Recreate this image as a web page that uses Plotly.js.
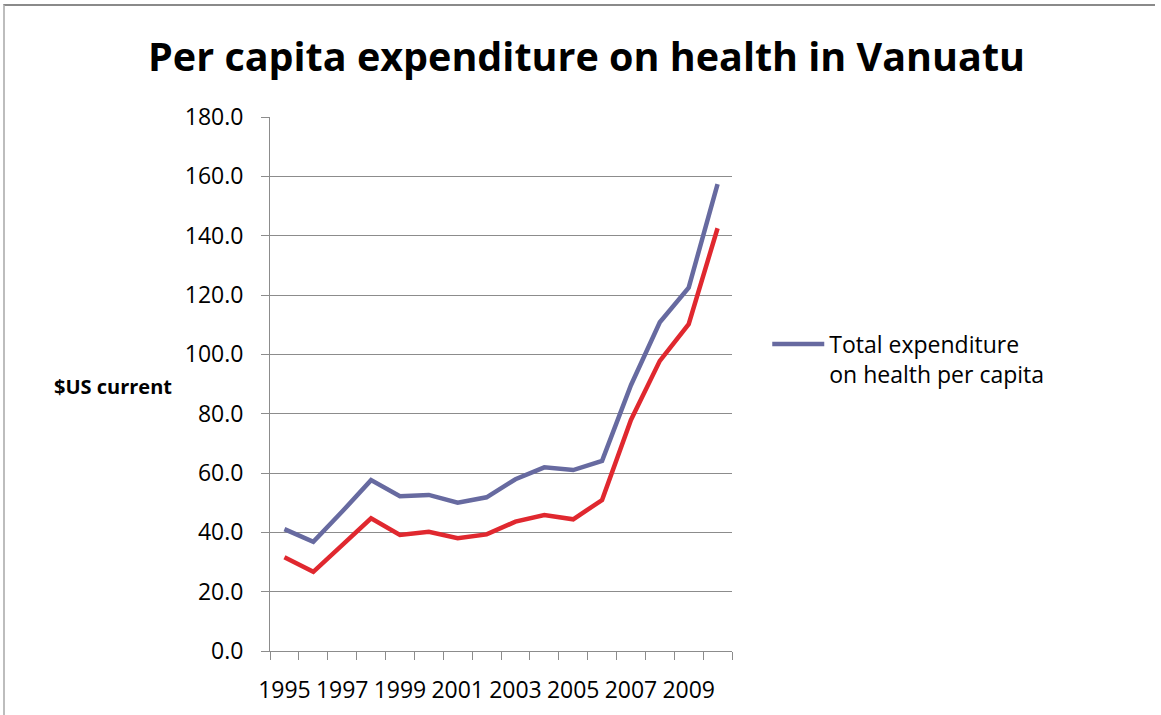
<!DOCTYPE html>
<html>
<head>
<meta charset="utf-8">
<script src="https://cdn.plot.ly/plotly-3.0.1.min.js"></script>
<style>
  html, body { margin: 0; padding: 0; background: #fff; }
  #chart { width: 1161px; height: 715px; }
  #frame { position: absolute; left: 3px; top: 4px; width: 1150px; height: 720px;
           border-top: 2px solid #8a8a8a; border-left: 2px solid #bdbdbd; pointer-events: none; }
</style>
</head>
<body>
<div id="chart"></div>
<div id="frame"></div>
<script>
const years = [1995, 1996, 1997, 1998, 1999, 2000, 2001, 2002, 2003, 2004, 2005, 2006, 2007, 2008, 2009, 2010];
const totalPerCapita = [41.1, 36.8, 47.0, 57.6, 52.2, 52.6, 50.0, 51.8, 57.9, 61.9, 61.0, 64.1, 89.6, 110.8, 122.5, 157.4];
const secondSeries = [31.6, 26.7, 35.7, 44.7, 39.1, 40.2, 38.0, 39.3, 43.6, 45.8, 44.4, 50.9, 77.9, 97.8, 110.2, 142.5];
const xTickLabels = ['1995', '1997', '1999', '2001', '2003', '2005', '2007', '2009'];
const xTickVals = [1995, 1997, 1999, 2001, 2003, 2005, 2007, 2009];
const seriesName = 'Total expenditure<br>on health per capita';

const font = "'Open Sans', 'Liberation Sans', sans-serif";

const traces = [
  { x: years, y: totalPerCapita, type: 'scatter', mode: 'lines', name: seriesName,
    line: { color: '#676AA0', width: 4.5 }, showlegend: true },
  { x: years, y: secondSeries, type: 'scatter', mode: 'lines', name: 'Series 2',
    line: { color: '#E0282F', width: 4.5 }, showlegend: false }
];

const layout = {
  width: 1161, height: 715,
  margin: { l: 270, r: 429, t: 117, b: 64 },
  paper_bgcolor: '#fff', plot_bgcolor: '#fff',
  font: { family: font, color: '#000', size: 23 },
  title: { text: '<b>Per capita expenditure on health in Vanuatu</b>',
           font: { family: font, size: 39.5, color: '#000' },
           x: 0.5052, xref: 'container', xanchor: 'center', y: 0.92, yref: 'container', yanchor: 'middle' },
  xaxis: {
    type: 'linear', range: [1994.5, 2010.5],
    tickvals: xTickVals, ticktext: xTickLabels, ticks: '',
    showgrid: false, zeroline: false,
    showline: true, linecolor: '#8c8c8c', linewidth: 1,
    tickfont: { family: font, size: 23 }, ticklabelstandoff: 18,
    minor: { tick0: 1994.5, dtick: 1, ticks: 'outside', ticklen: 8, tickcolor: '#8c8c8c', showgrid: false },
    fixedrange: true
  },
  yaxis: {
    range: [0, 180], dtick: 20, tick0: 0, tickformat: '.1f',
    ticks: 'outside', ticklen: 8, tickcolor: '#8c8c8c',
    showgrid: true, gridcolor: '#8c8c8c', gridwidth: 1,
    zeroline: false, showline: true, linecolor: '#8c8c8c', linewidth: 1,
    tickfont: { family: font, size: 23 }, ticklabelstandoff: 13,
    fixedrange: true
  },
  legend: {
    x: 1.0763, xanchor: 'left', y: 0.615, yanchor: 'top',
    valign: 'top', bgcolor: 'rgba(0,0,0,0)',
    font: { family: font, size: 23, color: '#000' },
    itemwidth: 52
  },
  annotations: [{
    text: '<b>$US current</b>', xref: 'paper', yref: 'paper',
    x: -0.339, y: 0.496, xanchor: 'center', yanchor: 'middle', showarrow: false,
    font: { family: font, size: 20, color: '#000' }
  }]
};

Plotly.newPlot('chart', traces, layout, { displayModeBar: false, staticPlot: true });
</script>
</body>
</html>
